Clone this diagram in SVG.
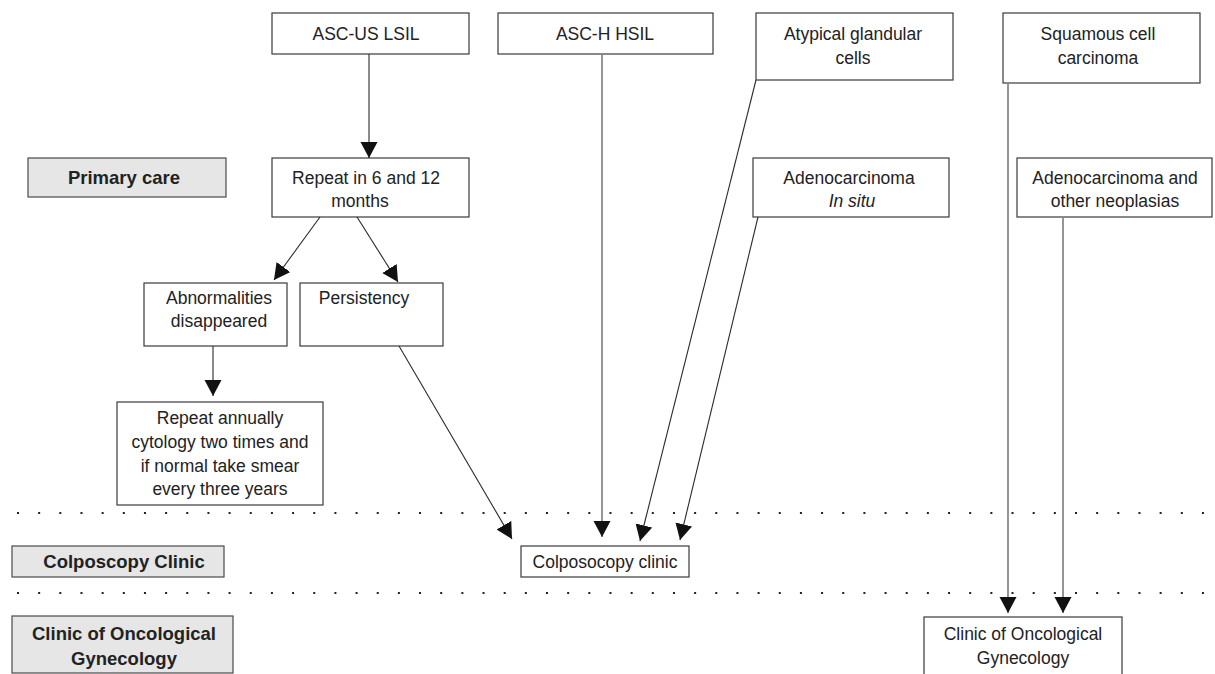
<svg xmlns="http://www.w3.org/2000/svg" width="1215" height="674" viewBox="0 0 1215 674">
<style>
  .box { fill: #ffffff; stroke: #3a3a3a; stroke-width: 1.2; }
  .lab { fill: #e6e6e6; stroke: #4a4a4a; stroke-width: 1.2; }
  .t { font-family: "Liberation Sans", Arial, sans-serif; font-size: 17.5px; fill: #222; text-anchor: middle; }
  .b { font-family: "Liberation Sans", Arial, sans-serif; font-size: 18.5px; font-weight: bold; fill: #222; text-anchor: middle; }
  .ln { stroke: #2a2a2a; stroke-width: 1.1; fill: none; }
  .lg { stroke: #8a8a8a; stroke-width: 1.8; fill: none; }
  .dots { stroke: #222; stroke-width: 2; stroke-dasharray: 2 19.16; }
</style>
<defs>
  <marker id="ah" markerUnits="userSpaceOnUse" markerWidth="17" markerHeight="18" refX="16" refY="8.5" orient="auto">
    <path d="M0,0 L16,8.5 L0,17 z" fill="#111"/>
  </marker>
</defs>
<rect width="1215" height="674" fill="#ffffff"/>

<g id="separators">
  <line class="dots" x1="17" y1="513" x2="1210" y2="513"/>
  <line class="dots" x1="17" y1="593" x2="1210" y2="593"/>
</g>

<g id="level-primary-care">
  <rect class="lab" x="28" y="158" width="198" height="39"/>
  <text class="b" x="124" y="184">Primary care</text>
</g>
<g id="level-colposcopy">
  <rect class="lab" x="12" y="546" width="212" height="31"/>
  <text class="b" x="124" y="568">Colposcopy Clinic</text>
</g>
<g id="level-oncology">
  <rect class="lab" x="12" y="616" width="221" height="57"/>
  <text class="b" x="124" y="640">Clinic of Oncological</text>
  <text class="b" x="124" y="665">Gynecology</text>
</g>

<g id="n-ascus">
  <rect class="box" x="272" y="13" width="197" height="41"/>
  <text class="t" x="366" y="40">ASC-US LSIL</text>
</g>
<g id="n-asch">
  <rect class="box" x="498" y="13" width="215" height="41"/>
  <text class="t" x="605" y="40">ASC-H HSIL</text>
</g>
<g id="n-agc">
  <rect class="box" x="756" y="13" width="197" height="67"/>
  <text class="t" x="853" y="40">Atypical glandular</text>
  <text class="t" x="853" y="64">cells</text>
</g>
<g id="n-scc">
  <rect class="box" x="1003" y="13" width="197" height="70"/>
  <text class="t" x="1098" y="40">Squamous cell</text>
  <text class="t" x="1098" y="64">carcinoma</text>
</g>
<g id="n-repeat">
  <rect class="box" x="272" y="158" width="197" height="59"/>
  <text class="t" x="366" y="184">Repeat in 6 and 12</text>
  <text class="t" x="360" y="207">months</text>
</g>
<g id="n-ais">
  <rect class="box" x="753" y="158" width="196" height="59"/>
  <text class="t" x="849" y="184">Adenocarcinoma</text>
  <text class="t" x="852" y="207" font-style="italic">In situ</text>
</g>
<g id="n-adeno-other">
  <rect class="box" x="1017" y="158" width="195" height="59"/>
  <text class="t" x="1115" y="184">Adenocarcinoma and</text>
  <text class="t" x="1115" y="207">other neoplasias</text>
</g>
<g id="n-abn">
  <rect class="box" x="144" y="283" width="143" height="63"/>
  <text class="t" x="219" y="304">Abnormalities</text>
  <text class="t" x="219" y="327">disappeared</text>
</g>
<g id="n-persist">
  <rect class="box" x="300" y="283" width="143" height="63"/>
  <text class="t" x="364" y="304">Persistency</text>
</g>
<g id="n-annual">
  <rect class="box" x="117" y="402" width="206" height="103"/>
  <text class="t" x="220" y="424">Repeat annually</text>
  <text class="t" x="220" y="448">cytology two times and</text>
  <text class="t" x="220" y="472">if normal take smear</text>
  <text class="t" x="220" y="495">every three years</text>
</g>
<g id="n-colpo">
  <rect class="box" x="521" y="546" width="168" height="31"/>
  <text class="t" x="605" y="568">Colposocopy clinic</text>
</g>
<g id="n-onco">
  <rect class="box" x="924" y="617" width="198" height="70"/>
  <text class="t" x="1023" y="640">Clinic of Oncological</text>
  <text class="t" x="1023" y="664">Gynecology</text>
</g>

<g id="connectors">
  <line class="ln" x1="369" y1="54" x2="369" y2="158" marker-end="url(#ah)"/>
  <line class="ln" x1="320" y1="217" x2="274" y2="280" marker-end="url(#ah)"/>
  <line class="ln" x1="357" y1="217" x2="398" y2="282" marker-end="url(#ah)"/>
  <line class="ln" x1="213" y1="346" x2="213" y2="396" marker-end="url(#ah)"/>
  <line class="ln" x1="399" y1="346" x2="512" y2="539" marker-end="url(#ah)"/>
  <line class="lg" x1="602" y1="54" x2="602" y2="537" marker-end="url(#ah)"/>
  <line class="ln" x1="756" y1="80" x2="640" y2="541" marker-end="url(#ah)"/>
  <line class="ln" x1="758" y1="217" x2="680" y2="540" marker-end="url(#ah)"/>
  <line class="lg" x1="1008" y1="83" x2="1008" y2="613" marker-end="url(#ah)"/>
  <line class="lg" x1="1063" y1="217" x2="1063" y2="613" marker-end="url(#ah)"/>
</g>
</svg>
